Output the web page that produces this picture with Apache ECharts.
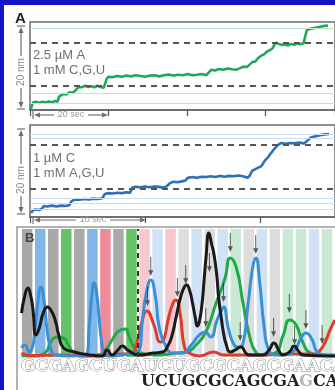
<!DOCTYPE html>
<html>
<head>
<meta charset="utf-8">
<script src="https://cdn.jsdelivr.net/npm/echarts@6/dist/echarts.min.js"></script>
<style>
html,body{margin:0;padding:0;background:#fff;}
#main{width:335px;height:390px;}
</style>
</head>
<body>
<div id="main"></div>
<script>
// panel A : time (s) , position (nm)
var greenA = [[0.2,0.2],[0.5,1.2],[0.8,1.9],[1.5,2.1],[2.3,1.8],[3.1,2.1],[4.0,1.9],[4.8,2.2],[5.6,2.0],[6.4,2.3],[7.0,2.1],[7.4,3.4],[7.8,3.9],[8.5,4.1],[9.3,4.0],[10.1,4.5],[10.8,4.4],[11.5,4.9],[12.0,5.2],[12.4,5.9],[13.2,5.8],[14.0,6.2],[14.8,5.9],[15.6,6.1],[16.4,5.8],[17.2,6.2],[18.0,5.9],[18.8,5.7],[19.2,6.8],[19.5,7.9],[20.0,8.5],[21.0,8.4],[22.2,8.7],[23.4,8.5],[24.6,8.8],[25.8,8.6],[27.0,8.9],[28.2,8.7],[29.4,8.5],[30.6,8.8],[31.8,8.9],[33.0,8.6],[34.2,8.9],[35.4,9.1],[36.6,8.8],[37.8,9.0],[39.0,8.9],[40.2,9.2],[41.4,8.9],[42.6,9.0],[43.8,9.2],[45.0,8.9],[45.6,9.6],[46.3,10.3],[47.2,10.1],[48.2,10.5],[49.3,10.3],[50.4,10.6],[51.5,10.4],[52.6,10.3],[53.6,10.7],[54.4,11.1],[55.3,11.0],[56.0,11.6],[56.8,12.3],[57.5,12.4],[58.2,13.3],[59.0,13.9],[59.8,14.3],[60.4,14.9],[61.2,15.3],[61.9,15.8],[62.3,16.6],[62.7,17.2],[63.4,16.9],[64.2,16.6],[65.0,16.8],[65.8,16.5],[66.6,16.9],[67.4,16.7],[68.2,17.0],[69.0,16.8],[69.8,17.1],[70.2,18.8],[70.6,20.4],[71.3,20.7],[72.2,20.9],[73.1,21.1],[74.0,21.3],[75.0,21.5],[76.0,21.6]];
var guideA = [21.0, 4.3, 1.8];
var dashA = [17.1, 6.1];

// panel A lower : 1 uM C
var blueB = [[0.1,1.0],[0.25,1.7],[0.5,1.9],[0.8,1.8],[1.05,2.1],[1.2,2.8],[1.5,2.7],[1.9,2.9],[2.3,2.7],[2.7,2.9],[3.1,2.8],[3.4,3.0],[3.6,4.0],[3.9,4.5],[4.3,4.4],[4.7,4.6],[5.1,4.5],[5.5,4.7],[5.9,4.6],[6.3,4.8],[6.5,5.9],[6.8,6.1],[7.2,6.0],[7.6,6.2],[8.0,6.1],[8.4,6.3],[8.7,6.2],[8.9,7.5],[9.2,7.7],[9.6,7.6],[10.0,7.8],[10.4,7.6],[10.8,7.8],[11.2,7.7],[11.6,7.5],[11.9,7.9],[12.1,8.5],[12.4,9.0],[12.8,8.9],[13.2,9.1],[13.5,9.3],[13.7,10.0],[14.1,10.2],[14.5,10.0],[14.9,10.3],[15.3,10.2],[15.7,10.4],[16.1,10.2],[16.5,10.5],[16.9,10.3],[17.3,10.5],[17.7,10.4],[18.1,10.6],[18.5,10.4],[18.9,10.0],[19.1,10.6],[19.3,11.8],[19.7,12.4],[20.1,13.0],[20.4,14.4],[20.7,15.3],[20.9,16.2],[21.2,17.3],[21.5,18.3],[21.8,18.9],[22.2,18.7],[22.6,18.9],[23.0,18.8],[23.4,19.0],[23.8,18.8],[24.1,19.5],[24.4,20.3],[24.8,20.6],[25.2,20.9],[25.6,21.1],[26.0,21.2]];
var guideB = [21.2, 20.0, 4.9, 3.5, 2.1];
var dashB = [18.4, 7.2];

// panel B : sequencing read (position, intensity)
var seqTop = 'GCGAGCUGAUCUGCGCAGCGAACA'.split('');
var seqRead = 'UCUGCGCAGCGAGCA'.split('');
var readStart = 9;
var chromG = [[-0.43,34.6],[-0.19,48.0],[0.06,54.3],[0.26,48.8],[0.43,38.6],[0.68,17.3],[0.93,22.8],[1.23,34.6],[1.55,39.4],[1.90,35.4],[2.19,27.6],[2.42,17.3],[2.79,7.1],[3.66,3.9],[4.77,1.6],[5.76,0.8],[6.13,5.5],[6.51,1.6],[6.95,5.5],[7.32,8.7],[7.70,5.5],[8.59,1.6],[9.63,3.1],[10.37,3.9],[10.82,9.4],[11.12,17.3],[11.41,30.7],[11.71,44.9],[12.01,54.3],[12.23,56.7],[12.45,52.8],[12.68,42.5],[12.90,30.7],[13.05,24.4],[13.20,27.6],[13.42,42.5],[13.57,60.6],[13.72,78.7],[13.94,97.6],[14.16,88.2],[14.31,81.9],[14.54,64.6],[14.68,47.2],[14.91,29.1],[15.06,18.9],[15.28,9.4],[15.58,3.9],[15.95,5.5],[16.39,7.9],[16.77,3.1],[17.06,1.6],[18.03,1.6],[18.55,5.5],[18.92,11.0],[19.29,5.5],[19.59,1.6],[20.11,3.9],[20.48,8.7],[20.86,3.9],[21.16,1.6],[22.86,0.8],[23.6,0.8]];
var chromC = [[-0.43,7.1],[-0.19,9.4],[0.19,3.9],[0.41,7.9],[0.56,17.3],[0.80,40.9],[1.06,55.1],[1.30,43.3],[1.55,19.7],[1.80,7.1],[2.17,1.6],[3.16,0.8],[4.52,1.6],[4.77,25.2],[4.94,46.5],[5.14,58.3],[5.32,51.2],[5.52,30.7],[5.69,13.4],[5.89,3.1],[6.28,0.8],[7.25,1.6],[8.49,3.9],[8.86,30.7],[9.11,48.8],[9.48,60.6],[9.85,46.5],[10.10,25.2],[10.59,9.4],[11.21,3.1],[11.93,3.1],[12.58,9.4],[13.20,17.3],[13.64,19.7],[14.07,15.7],[14.56,29.1],[14.91,37.0],[15.06,39.4],[15.43,22.8],[15.80,11.0],[16.17,7.9],[16.54,10.2],[16.91,38.6],[17.29,70.1],[17.53,78.0],[17.83,59.1],[18.16,25.2],[18.53,5.5],[19.27,1.6],[20.11,2.4],[20.63,7.1],[21.0,15.0],[21.38,18.9],[21.87,13.4],[22.25,3.9],[22.86,1.6],[23.6,0.8]];
var chromA = [[-0.43,1.2],[0.56,0.8],[1.43,3.9],[1.80,11.8],[2.29,15.7],[2.79,15.0],[3.16,9.4],[3.53,3.9],[4.28,0.8],[5.39,1.6],[6.01,5.5],[6.51,13.4],[7.03,20.5],[7.55,22.0],[7.77,17.3],[8.24,7.1],[8.74,3.1],[9.85,1.6],[11.46,3.1],[12.21,3.9],[12.95,9.4],[13.70,19.7],[14.44,40.9],[15.18,62.2],[15.58,78.0],[16.05,70.1],[16.54,43.3],[17.04,17.3],[17.53,3.9],[18.03,1.6],[18.99,3.1],[19.64,17.3],[20.13,29.1],[20.63,25.2],[21.13,11.8],[21.75,3.1],[22.49,1.6],[23.6,1.6]];
var chromU = [[-0.43,2.8],[0.31,1.2],[2.42,1.6],[5.39,0.8],[7.25,2.4],[7.99,2.4],[8.36,9.4],[8.74,25.2],[9.18,36.2],[9.72,25.2],[10.22,11.8],[10.47,13.4],[10.84,30.7],[11.19,42.5],[11.41,44.9],[11.71,35.4],[12.08,7.1],[12.45,3.1],[13.20,0.8],[14.31,3.9],[15.06,1.6],[17.29,1.6],[20.26,2.4],[22.12,2.4],[22.49,5.5],[22.86,11.8],[23.23,21.3],[23.6,29.1]];
var arrowTips = [[9.23,40.2],[9.48,63.8],[11.52,47.2],[12.16,57.5],[13.98,66.9],[13.70,23.6],[15.06,43.3],[15.58,82.7],[16.34,12.6],[17.53,81.1],[18.90,15.7],[20.11,34.6],[20.51,9.4],[21.38,22.0],[22.62,10.2]];

var bandColor = {G:'#a9a9a9', C:'#80b7e6', A:'#66c266', U:'#ef8b9a'};
var bandLight = {G:'#dddddd', C:'#d0e2f3', A:'#cae9d4', U:'#f6c8d0'};

var chart = echarts.init(document.getElementById('main'));

function marks(guides, dashes, guideColor) {
    return guides.map(function (v) {
        return {yAxis: v, lineStyle: {color: guideColor, width: 1, type: 'solid'}};
    }).concat(dashes.map(function (v) {
        return {yAxis: v, lineStyle: {color: '#555', width: 2, type: [6, 5]}};
    }));
}

// scale bars (drawn, not data)
var ink = '#6f6f6f';
var gfx = [];
function seg(x1, y1, x2, y2) {
    gfx.push({type: 'line', shape: {x1: x1, y1: y1, x2: x2, y2: y2}, style: {stroke: ink, lineWidth: 1.2}, z: 50});
}
function head(pts) {
    gfx.push({type: 'polygon', shape: {points: pts}, style: {fill: ink}, z: 50});
}
function vBar(x, y1, y2, ty) {
    seg(x - 4, y1, x + 4, y1);
    seg(x - 4, y2, x + 4, y2);
    seg(x, y1 + 5, x, ty - 16);
    head([[x, y1 + 1], [x - 2.5, y1 + 7], [x + 2.5, y1 + 7]]);
    seg(x, ty + 16, x, y2 - 5);
    head([[x, y2 - 1], [x - 2.5, y2 - 7], [x + 2.5, y2 - 7]]);
    gfx.push({type: 'text', x: x, y: ty, rotation: Math.PI / 2, z: 50,
        style: {text: '20 nm', align: 'center', verticalAlign: 'middle', font: '10px "Liberation Sans"', fill: '#888'}});
}
function hBar(x1, x2, y, tx, label) {
    seg(x1, y - 4, x1, y + 4);
    seg(x1 + 4, y, tx - 17, y);
    head([[x1 + 1, y], [x1 + 7, y - 2.5], [x1 + 7, y + 2.5]]);
    seg(tx + 17, y, x2 - 4, y);
    head([[x2 - 1, y], [x2 - 7, y - 2.5], [x2 - 7, y + 2.5]]);
    gfx.push({type: 'text', x: tx, y: y, z: 50,
        style: {text: label, align: 'center', verticalAlign: 'middle', font: '9px "Liberation Sans"', fill: '#999'}});
}
vBar(21, 26, 109, 72);
vBar(21, 129, 214, 180);
hBar(33, 109, 115, 71, '20 sec');
hBar(33, 147, 220, 93, '10 sec');

function note(x, y, txt, font, color) {
    gfx.push({type: 'text', x: x, y: y, z: 50,
        style: {text: txt, align: 'left', verticalAlign: 'middle', font: font, fill: color}});
}
note(15, 19, 'A', 'bold 15px "Liberation Sans"', '#222');
note(33, 55, '2.5 \u00b5M A', '13px "Liberation Sans"', '#707070');
note(33, 70, '1 mM C,G,U', '13px "Liberation Sans"', '#707070');
note(33, 158, '1 \u00b5M C', '13px "Liberation Sans"', '#707070');
note(33, 173, '1 mM A,G,U', '13px "Liberation Sans"', '#707070');
note(25, 238, 'B', 'bold 13px "Liberation Sans"', '#444');

// sequence panel frame + base calls
gfx.push({type: 'rect', shape: {x: 17, y: 227, width: 340, height: 180}, style: {fill: 'none', stroke: '#999', lineWidth: 1.5}, z: 40});
gfx.push({type: 'text', x: 21, y: 367, z: 50,
    style: {text: seqTop.join(''), align: 'left', verticalAlign: 'middle', font: 'bold 16.5px "DejaVu Serif"', fill: '#ffffff', stroke: '#8a8a8a', lineWidth: 1}});
var readRich = seqRead.map(function (b, k) {
    return (b === seqTop[readStart + k] ? '{b|' : '{g|') + b + '}';
}).join('');
gfx.push({type: 'text', x: 141, y: 382, z: 50,
    style: {text: readRich, align: 'left', verticalAlign: 'middle',
        rich: {b: {font: 'bold 16px "DejaVu Serif"', fill: '#222'}, g: {font: 'bold 16px "DejaVu Serif"', fill: '#b5b5b5'}}}});

// blue border of the figure
gfx.push({type: 'rect', shape: {x: 0, y: 0, width: 335, height: 5}, style: {fill: '#1414c4'}, z: 100});
gfx.push({type: 'rect', shape: {x: 0, y: 0, width: 4, height: 390}, style: {fill: '#1414c4'}, z: 100});

var timeAxis = function (grid, max, interval) {
    return {
        type: 'value', gridIndex: grid, min: 0, max: max, interval: interval,
        axisLabel: {show: false}, splitLine: {show: false},
        axisLine: {show: true, lineStyle: {color: '#666', width: 1.5}},
        axisTick: {show: true, inside: false, length: 6, lineStyle: {color: '#555', width: 1.2}}
    };
};

var option = {
    animation: false,
    backgroundColor: '#fff',
    grid: [
        {left: 30, top: 22, right: -10, height: 88, show: true, borderColor: '#6a6a6a', borderWidth: 1.5},
        {left: 30, top: 125, right: -10, height: 92, show: true, borderColor: '#6a6a6a', borderWidth: 1.5},
        {left: 17, top: 229, right: -10, height: 128, show: false}
    ],
    xAxis: [
        timeAxis(0, 77.8, 20),
        timeAxis(1, 26.5, 10),
        {type: 'value', gridIndex: 2, min: -0.78, max: 23.61, show: false}
    ],
    yAxis: [
        {type: 'value', gridIndex: 0, min: 0, max: 22.5, show: false},
        {type: 'value', gridIndex: 1, min: 0, max: 23.5, show: false},
        {type: 'value', gridIndex: 2, min: 0, max: 100.8, show: false},
        {type: 'value', gridIndex: 2, min: 0, max: 1, show: false}
    ],
    graphic: gfx,
    series: [
        {type: 'line', xAxisIndex: 0, yAxisIndex: 0, data: [], z: 1,
            markLine: {silent: true, symbol: ['none', 'none'], label: {show: false}, data: marks(guideA, dashA, '#bfe3cd')}},
        {type: 'line', xAxisIndex: 0, yAxisIndex: 0, data: greenA, symbol: 'none', z: 3,
            lineStyle: {color: '#22a65a', width: 2.6}},
        {type: 'line', xAxisIndex: 1, yAxisIndex: 1, data: [], z: 1,
            markLine: {silent: true, symbol: ['none', 'none'], label: {show: false}, data: marks(guideB, dashB, '#c9ddf0')}},
        {type: 'line', xAxisIndex: 1, yAxisIndex: 1, data: blueB, symbol: 'none', z: 3,
            lineStyle: {color: '#2e70b8', width: 2.6}},
        {type: 'bar', xAxisIndex: 2, yAxisIndex: 3, barWidth: 10.5, silent: true, z: 1,
            data: seqTop.map(function (b, i) {
                return {value: [i, 1], itemStyle: {color: i < readStart ? bandColor[b] : bandLight[b]}};
            }),
            markLine: {silent: true, symbol: ['none', 'none'], label: {show: false},
                data: [{xAxis: readStart - 0.5, lineStyle: {color: '#333', width: 2, type: [5, 4]}}]}},
        {type: 'line', xAxisIndex: 2, yAxisIndex: 2, data: chromA, symbol: 'none', smooth: 0.55, clip: false, z: 3,
            lineStyle: {color: '#1faa48', width: 3}},
        {type: 'line', xAxisIndex: 2, yAxisIndex: 2, data: chromU, symbol: 'none', smooth: 0.55, clip: false, z: 3,
            lineStyle: {color: '#e03a2c', width: 3}},
        {type: 'line', xAxisIndex: 2, yAxisIndex: 2, data: chromC, symbol: 'none', smooth: 0.55, clip: false, z: 3,
            lineStyle: {color: '#3a8fd9', width: 3}},
        {type: 'line', xAxisIndex: 2, yAxisIndex: 2, data: chromG, symbol: 'none', smooth: 0.55, clip: false, z: 4,
            lineStyle: {color: '#1a1a1a', width: 3}},
        {type: 'scatter', xAxisIndex: 2, yAxisIndex: 2, data: arrowTips, z: 5, silent: true,
            symbol: 'path://M2,0 L3,0 L3,14 L5,14 L2.5,20 L0,14 L2,14 Z',
            symbolSize: [5, 19], symbolOffset: [0, '-50%'],
            itemStyle: {color: '#333'}}
    ]
};

chart.setOption(option);
</script>
</body>
</html>
